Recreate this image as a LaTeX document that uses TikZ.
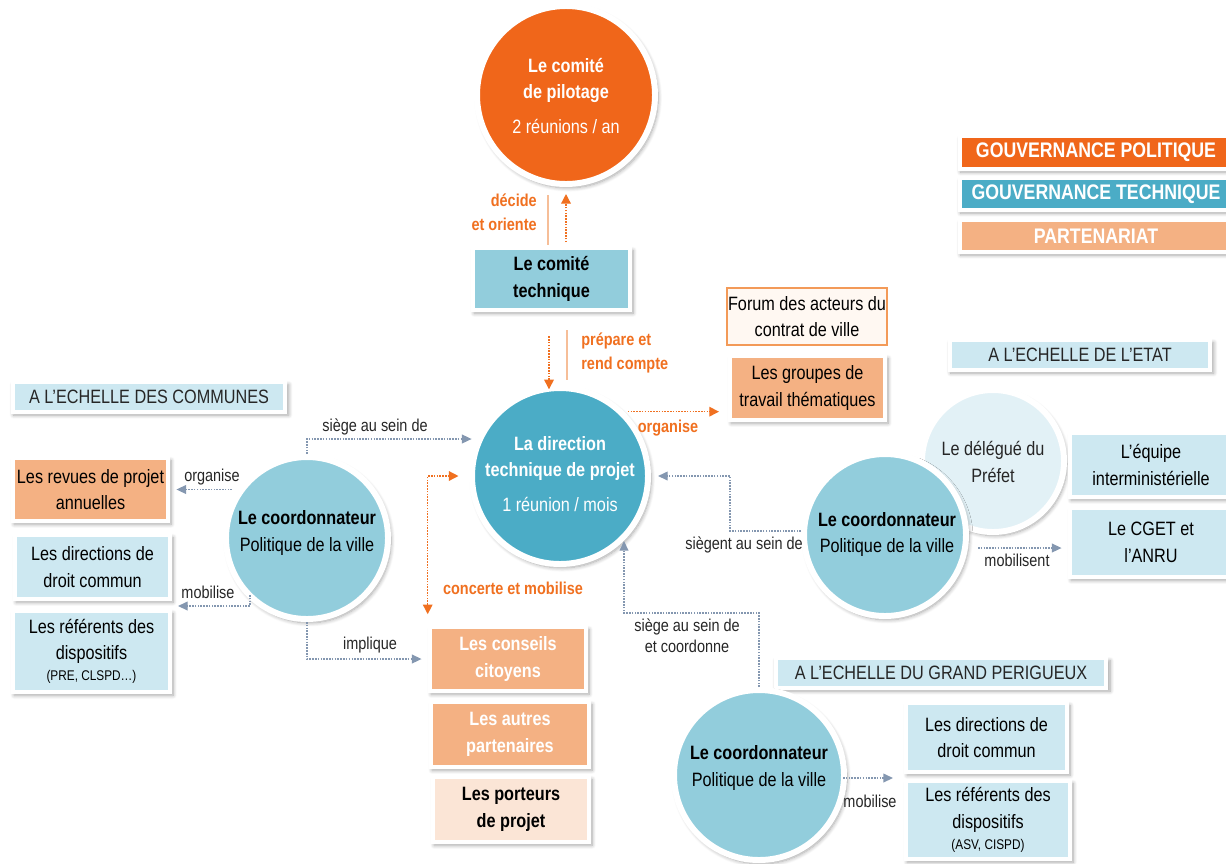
\documentclass[tikz,border=0pt]{standalone}
\usepackage{fontspec}
\setmainfont{Liberation Sans}[FakeStretch=0.84]
\usetikzlibrary{shadows,shadows.blur,arrows.meta,calc}
\definecolor{cOrange}{HTML}{F0661A}
\definecolor{cTeal}{HTML}{4BACC6}
\definecolor{cLTeal}{HTML}{92CDDC}
\definecolor{cPale}{HTML}{CDE8F1}
\definecolor{cPaler}{HTML}{E2F1F6}
\definecolor{cPart}{HTML}{F4B183}
\definecolor{cPort}{HTML}{FBE5D6}
\definecolor{cForum}{HTML}{FFF8F2}
\definecolor{cForumB}{HTML}{F39A58}
\definecolor{cConn}{HTML}{8497B0}
\definecolor{cOConn}{HTML}{F07020}
\definecolor{cOLine}{HTML}{F6BE98}
\definecolor{cTxt}{HTML}{262626}
\newcommand\pxl[1]{#1*0.02cm}
\newcommand\fsN{\fontsize{11}{15}\selectfont}
\newcommand\fsS{\fontsize{9.8}{12}\selectfont}
\newcommand\fsT{\fontsize{8}{10}\selectfont}
\begin{document}
\begin{tikzpicture}[x=0.02cm,y=-0.02cm,
  shad/.style={blur shadow={shadow xshift=1.2pt,shadow yshift=-1.6pt,shadow blur radius=2.2pt,shadow blur steps=8,shadow opacity=35,shadow scale=1.012}},
  box/.style={rectangle,draw=white,line width=2.6pt,shad,inner sep=0pt,align=center,font=\fsN,text=black},
  tag/.style={rectangle,draw=white,line width=2.6pt,shad,inner sep=0pt,align=center,font=\fontsize{11}{13}\selectfont,text=cTxt,fill=cPale},
  legend/.style={rectangle,draw=white,line width=2.6pt,shad,inner sep=0pt,align=center,font=\fontsize{12}{14}\selectfont\bfseries,text=white},
  circ/.style={circle,draw=white,line width=3.4pt,shad,inner sep=0pt},
  ctext/.style={align=center,font=\fsN,inner sep=0pt},
  lbl/.style={align=center,font=\fsS,text=cTxt,inner sep=0pt},
  olbl/.style={font=\fsS\bfseries,text=cOConn,inner sep=0pt},
  arr/.style={draw=cConn,line width=0.75pt,dash pattern=on 0.9pt off 0.7pt,-{Triangle[length=5.5pt,width=5pt]}},
  oarr/.style={draw=cOConn,line width=0.75pt,dash pattern=on 0.9pt off 0.7pt,-{Triangle[length=5.5pt,width=5.5pt]}},
  oline/.style={draw=cOLine,line width=0.6pt}
]
\useasboundingbox (0,0) rectangle (1226,863);

% legend
\node[legend,fill=cOrange,minimum width=\pxl{272},minimum height=\pxl{33}] (lg1) at (1096,152.5) {GOUVERNANCE POLITIQUE};
\node[legend,fill=cTeal,minimum width=\pxl{272},minimum height=\pxl{32}] (lg2) at (1096,194) {GOUVERNANCE TECHNIQUE};
\node[legend,fill=cPart,minimum width=\pxl{272},minimum height=\pxl{32}] (lg3) at (1096,236) {PARTENARIAT};

% comite de pilotage
\node[circ,fill=cOrange,minimum size=\pxl{178}] (cp) at (566,95) {};
\node[ctext,text=white] (cpt) at (566,96) {\textbf{Le comité}\\\textbf{de pilotage}\\[5pt]2 réunions / an};

% comite technique
\node[box,fill=cLTeal,font=\fsN\bfseries,minimum width=\pxl{157},minimum height=\pxl{62}] (ct) at (551.5,279) {Le comité\\technique};

% direction technique
\node[circ,fill=cTeal,minimum size=\pxl{176}] (dir) at (560,476) {};
\node[ctext,text=white] (dirt) at (560,474) {\textbf{La direction}\\\textbf{technique de projet}\\[5pt]1 réunion / mois};

% forum & groupes
\node[rectangle,draw=cForumB,line width=0.8pt,fill=cForum,align=center,font=\fsN,text=black,inner sep=0pt,minimum width=\pxl{160},minimum height=\pxl{57}] (forum) at (807,316.5) {Forum des acteurs du\\contrat de ville};
\node[box,fill=cPart,minimum width=\pxl{155},minimum height=\pxl{64}] (groupes) at (807.5,388) {Les groupes de\\travail thématiques};

% Etat
\node[tag,minimum width=\pxl{260},minimum height=\pxl{30}] (etat) at (1080,355) {A L’ECHELLE DE L’ETAT};
\node[circ,fill=cPaler,minimum size=\pxl{142}] (del) at (993,461) {};
\node[ctext,text=cTxt] (delt) at (993,462) {Le délégué du\\Préfet};
\node[circ,fill=cLTeal,minimum size=\pxl{162}] (rc) at (885,535) {};
\node[ctext,text=black] (rct) at (887,534.5) {\textbf{Le coordonnateur}\\Politique de la ville};
\node[box,fill=cPale,minimum width=\pxl{162},minimum height=\pxl{64}] (equipe) at (1151,465) {L’équipe\\interministérielle};
\node[box,fill=cPale,minimum width=\pxl{162},minimum height=\pxl{69}] (cget) at (1151,542.5) {Le CGET et\\l’ANRU};

% Communes
\node[tag,minimum width=\pxl{272},minimum height=\pxl{30}] (communes) at (149,397) {A L’ECHELLE DES COMMUNES};
\node[circ,fill=cLTeal,minimum size=\pxl{162}] (lc) at (307,538) {};
\node[ctext,text=black] (lct) at (307,533) {\textbf{Le coordonnateur}\\Politique de la ville};
\node[box,fill=cPart,minimum width=\pxl{155},minimum height=\pxl{63}] (revues) at (90.5,489.5) {Les revues de projet\\annuelles};
\node[box,fill=cPale,minimum width=\pxl{155},minimum height=\pxl{64}] (dirL) at (92.5,567) {Les directions de\\droit commun};
\node[box,fill=cPale,minimum width=\pxl{157},minimum height=\pxl{81}] (refL) at (91.5,651.5) {Les référents des\\dispositifs\\[-3pt]{\fsT(PRE, CLSPD…)}};

% partenaires
\node[box,fill=cPart,text=white,font=\fsN\bfseries,minimum width=\pxl{156},minimum height=\pxl{64}] (conseils) at (508,659) {Les conseils\\citoyens};
\node[box,fill=cPart,text=white,font=\fsN\bfseries,minimum width=\pxl{158},minimum height=\pxl{65}] (autres) at (510,734.5) {Les autres\\partenaires};
\node[box,fill=cPort,font=\fsN\bfseries,minimum width=\pxl{156},minimum height=\pxl{65}] (porteurs) at (511,809.5) {Les porteurs\\de projet};

% Grand Perigueux
\node[tag,minimum width=\pxl{330},minimum height=\pxl{30}] (perig) at (941,673) {A L’ECHELLE DU GRAND PERIGUEUX};
\node[circ,fill=cLTeal,minimum size=\pxl{170}] (bc) at (759,775) {};
\node[ctext,text=black] (bct) at (759,768) {\textbf{Le coordonnateur}\\Politique de la ville};
\node[box,fill=cPale,minimum width=\pxl{161},minimum height=\pxl{69}] (dirB) at (986.5,737.5) {Les directions de\\droit commun};
\node[box,fill=cPale,minimum width=\pxl{164},minimum height=\pxl{78}] (refB) at (988,820) {Les référents des\\dispositifs\\[-3pt]{\fsT(ASV, CISPD)}};

% ---------- orange connectors
\draw[oarr,shorten <=2pt,shorten >=4pt] (cp.south |- ct.north) -- (cp.south);
\draw[oline] (548,195) -- (548,245);
\node[olbl,align=right,anchor=east,font=\fontsize{9.8}{13.5}\selectfont\bfseries] (decide) at (537,212) {décide\\et oriente};

\draw[oarr] ($(ct.south)+(-2.5,24)$) -- ($(ct.south)+(-2.5,77)$);
\draw[oline] (567,330) -- (567,380);
\node[olbl,align=left,anchor=west,font=\fontsize{9.8}{13.5}\selectfont\bfseries] (prepare) at (581,353) {prépare et\\rend compte};

\draw[oarr,shorten <=2pt,shorten >=5pt] (dir.45) -- (dir.45 -| groupes.west);
\node[olbl] (orgO) at (668,428) {organise};

\draw[oarr,{Triangle[length=5.5pt,width=5.5pt]}-{Triangle[length=5.5pt,width=5.5pt]},shorten >=6pt,shorten <=6pt] (conseils.north west) |- (dir.west);
\node[olbl] (concerte) at (513,588) {concerte et mobilise};

% ---------- blue-grey connectors
\draw[arr,shorten >=3pt] (lc.north) |- (dir.156);
\node[lbl] (siegeL) at (375,427) {siège au sein de};

\coordinate (lcorg) at (232,489.5);
\draw[arr,shorten >=3.5pt] (lcorg) -- (revues.east);
\node[lbl] (orgL) at (212,477) {organise};

\coordinate (lcmob) at (250,595);
\coordinate (mobLt) at (178,606);
\draw[arr] (lcmob) |- (mobLt);
\node[lbl] (mobL) at (208,592) {mobilise};

\draw[arr,shorten >=3.5pt] (lc.south) |- (conseils.west);
\node[lbl] (impl) at (370,645) {implique};

\coordinate (siegK) at (730,531);
\draw[arr,shorten >=4pt] (rc.west |- siegK) -- (siegK) |- (dir.east);
\node[lbl] (siegR) at (744,545) {siègent au sein de};

\coordinate (mobR) at (978,548);
\draw[arr,shorten >=3.5pt] (mobR) -- (mobR -| cget.west);
\node[lbl] (mobRt) at (1017,560) {mobilisent};

\coordinate (scK) at (624,613);
\draw[arr,shorten >=3pt] (bc.north) |- (scK) -- (scK |- dir.-41);
\node[lbl] (siegB) at (687,636) {siège au sein de\\et coordonne};

\coordinate (mobBs) at (843,778);
\coordinate (mobBt) at (893,778);
\draw[arr] (mobBs) -- (mobBt);
\node[lbl] (mobBl) at (870,801) {mobilise};
\end{tikzpicture}
\end{document}
